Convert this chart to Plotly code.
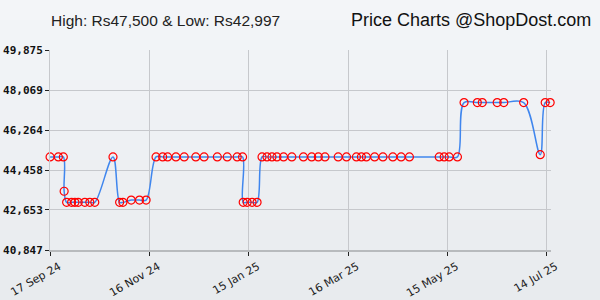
import plotly.graph_objects as go

dates = [
    "2024-09-17", "2024-09-22", "2024-09-25 00:00", "2024-09-25 12:00",
    "2024-09-27", "2024-09-30", "2024-10-02", "2024-10-04", "2024-10-08", "2024-10-11", "2024-10-14",
    "2024-10-25",
    "2024-10-29", "2024-10-31",
    "2024-11-05", "2024-11-10", "2024-11-14",
    "2024-11-20", "2024-11-24", "2024-11-27", "2024-12-02", "2024-12-07", "2024-12-14", "2024-12-19",
    "2024-12-27", "2025-01-02", "2025-01-08", "2025-01-11 06:00",
    "2025-01-11 15:00", "2025-01-14", "2025-01-17", "2025-01-20",
    "2025-01-23", "2025-01-26", "2025-01-29", "2025-02-01", "2025-02-05", "2025-02-10", "2025-02-17",
    "2025-02-22", "2025-02-26", "2025-03-02", "2025-03-10", "2025-03-15", "2025-03-21", "2025-03-24",
    "2025-03-27", "2025-04-01", "2025-04-06", "2025-04-12", "2025-04-17", "2025-04-22", "2025-05-10",
    "2025-05-13", "2025-05-16", "2025-05-21",
    "2025-05-25", "2025-06-02", "2025-06-05", "2025-06-14", "2025-06-18", "2025-06-30",
    "2025-07-10",
    "2025-07-13", "2025-07-16",
]
prices = [
    45049, 45049, 45049, 43499,
    42997, 42997, 42997, 42997, 42997, 42997, 42997,
    45049,
    42997, 42997,
    43099, 43099, 43099,
    45049, 45049, 45049, 45049, 45049, 45049, 45049,
    45049, 45049, 45049, 45049,
    42997, 42997, 42997, 42997,
    45049, 45049, 45049, 45049, 45049, 45049, 45049,
    45049, 45049, 45049, 45049, 45049, 45049, 45049,
    45049, 45049, 45049, 45049, 45049, 45049, 45049,
    45049, 45049, 45049,
    47500, 47500, 47500, 47500, 47500, 47500,
    45149,
    47500, 47500,
]

y_ticks = [40847, 42653, 44458, 46264, 48069, 49875]
y_tick_text = ["40,847", "42,653", "44,458", "46,264", "48,069", "49,875"]
x_ticks = ["2024-09-17", "2024-11-16", "2025-01-15", "2025-03-16", "2025-05-15", "2025-07-14"]
x_tick_text = ["17 Sep 24", "16 Nov 24", "15 Jan 25", "16 Mar 25", "15 May 25", "14 Jul 25"]
x_range = ["2024-09-16 23:00", "2025-07-16 12:00"]
title_left = "High: Rs47,500 & Low: Rs42,997"
title_right = "Price Charts @ShopDost.com"

fig = go.Figure()
fig.add_trace(go.Scatter(
    x=dates, y=prices, mode="lines+markers",
    line=dict(color="#3f86ee", width=1.5, shape="spline", smoothing=1.0),
    marker=dict(symbol="circle-open", size=8, color="#ff0000", line=dict(width=1.2, color="#ff0000")),
    showlegend=False, hoverinfo="x+y", cliponaxis=False,
))

# background gradient stripes
n = 30
top = (243, 245, 248)
bot = (232, 235, 238)
shapes = []
for i in range(n):
    t = i / (n - 1)
    c = tuple(round(top[k] + (bot[k] - top[k]) * t) for k in range(3))
    y1 = 1.25 - i * (1.5 / n)
    y0 = y1 - 1.5 / n - 0.002
    shapes.append(dict(type="rect", xref="paper", yref="paper", x0=-0.2, x1=1.2, y0=y0, y1=y1,
                       fillcolor="rgb(%d,%d,%d)" % c, line=dict(width=0), layer="below"))

fig.update_layout(
    width=600, height=300,
    margin=dict(l=50, r=49, t=50, b=50),
    paper_bgcolor="#eef1f4", plot_bgcolor="rgba(0,0,0,0)",
    shapes=shapes,
    annotations=[
        dict(text=title_left, xref="paper", yref="paper", x=-0.002, y=1.15, xanchor="left", yanchor="middle",
             showarrow=False, font=dict(family="Liberation Sans, Arial", size=15.5, color="#222")),
        dict(text=title_right, xref="paper", yref="paper", x=1.083, y=1.15, xanchor="right", yanchor="middle",
             showarrow=False, font=dict(family="Liberation Sans, Arial", size=18, color="#111")),
    ],
)
fig.update_xaxes(
    type="date", range=x_range, tickvals=x_ticks, ticktext=x_tick_text, tickangle=-30,
    tickfont=dict(family="DejaVu Sans", size=11, color="#1a1a1a"), automargin=False,
    ticklabeloverflow="allow", ticklabelshift=9, ticklabelstandoff=0,
    showgrid=True, gridcolor="#c6c8cc", gridwidth=1,
    showline=True, linecolor="#b8babd", linewidth=2,
    ticks="outside", ticklen=4, tickcolor="#222", tickwidth=1, zeroline=False,
)
fig.update_yaxes(
    range=[y_ticks[0], y_ticks[-1]], tickvals=y_ticks, ticktext=y_tick_text, automargin=False,
    tickfont=dict(family="DejaVu Sans Mono", size=11, color="#111", weight="bold"),
    showgrid=True, gridcolor="#c6c8cc", gridwidth=1,
    showline=True, linecolor="#c6c8cc", linewidth=1,
    ticks="outside", ticklen=4, tickcolor="#222", tickwidth=1, zeroline=False,
)
fig.write_html("out.html")
